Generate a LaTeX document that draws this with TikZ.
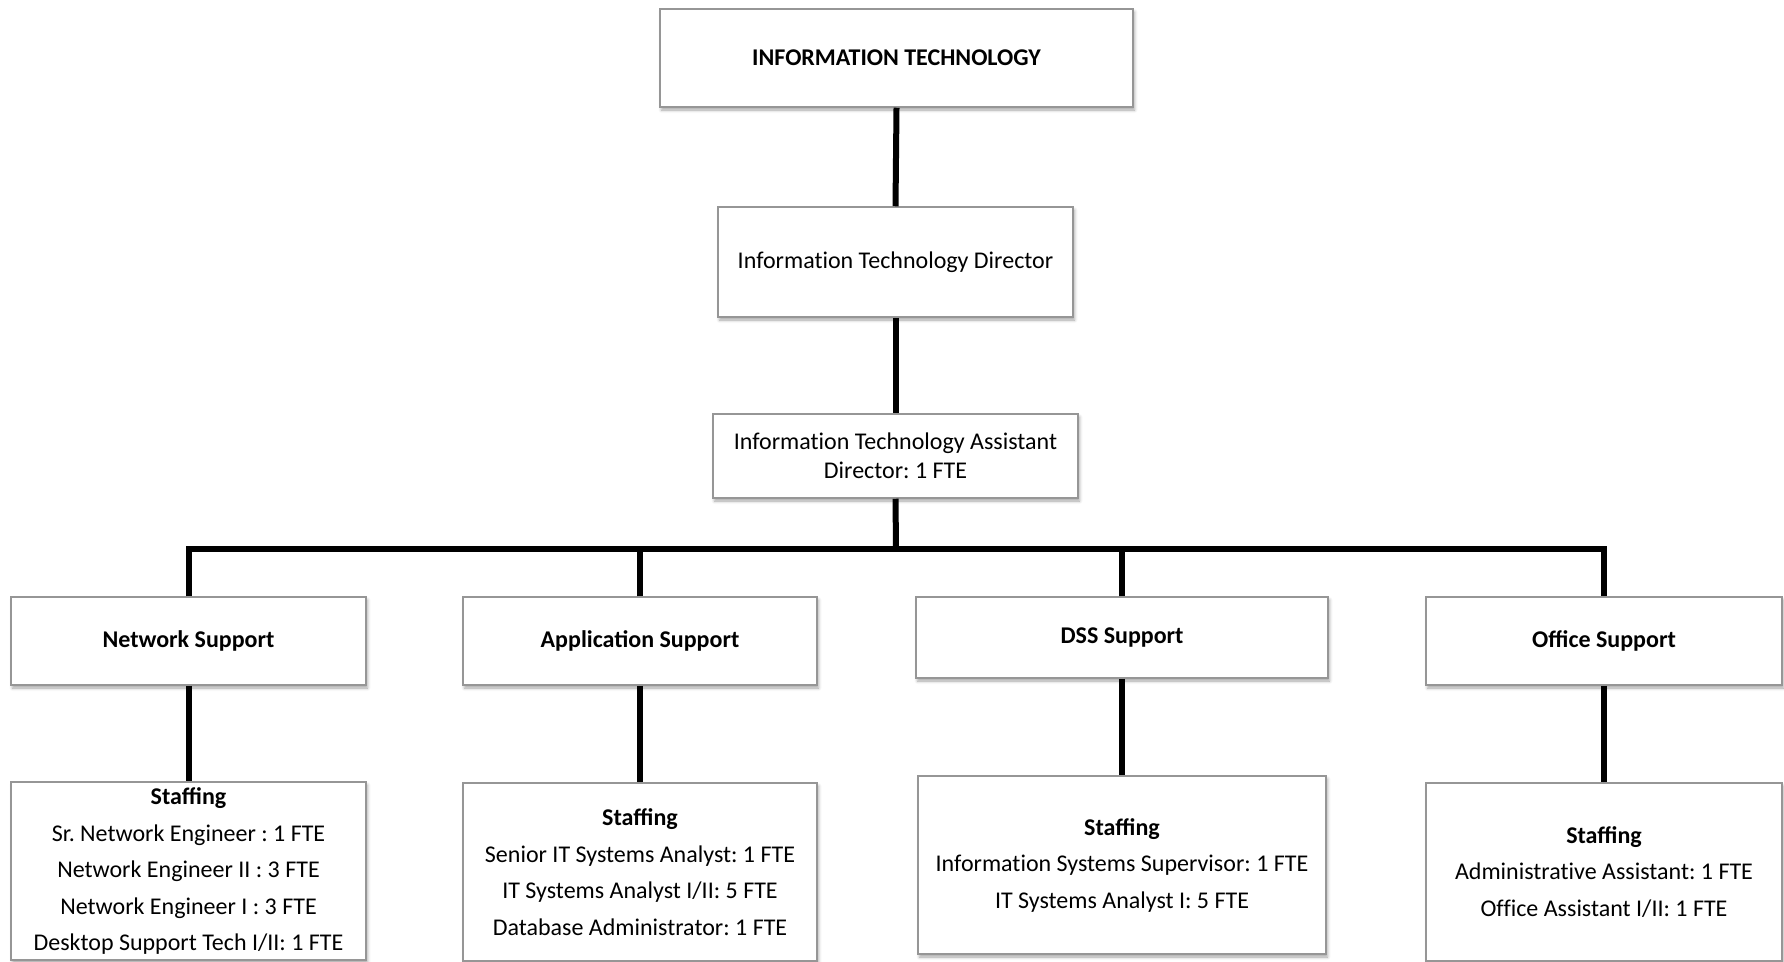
\documentclass[tikz,border=0pt]{standalone}
\usepackage{fontspec}
\setmainfont{Carlito}[UprightFeatures={RawFeature=-liga}]
\usetikzlibrary{shadows.blur}
\definecolor{boxgray}{RGB}{150,150,150}
\frenchspacing

\begin{document}
\begin{tikzpicture}[x=1pt,y=-1pt,
  box/.style={draw=boxgray, line width=1.5pt, fill=white, inner sep=0pt,
    align=center, font=\fontsize{24}{28.5}\selectfont,
    blur shadow={shadow xshift=1.5pt, shadow yshift=-3pt,
      shadow blur radius=3pt, shadow opacity=35}},
  headbox/.style={box, font=\fontsize{24}{28.5}\selectfont\bfseries},
  staffbox/.style={box, font=\fontsize{24}{36.5}\selectfont},
  link/.style={draw=black, line width=6pt, line join=miter}
]
\path[use as bounding box] (0,0) rectangle (1784,961);
\clip (0,0) rectangle (1784,961);

% top of the hierarchy
\node[headbox, minimum width=473pt, minimum height=98pt] (it) at (896.5,58)
  {INFORMATION TECHNOLOGY};
\node[box, minimum width=355pt, minimum height=110pt] (dir) at (895.5,262)
  {Information Technology Director};
\node[box, minimum width=365pt, minimum height=84pt] (asst) at (895.5,456)
  {Information Technology Assistant\\Director: 1 FTE};

% units
\node[headbox, minimum width=355pt, minimum height=88pt] (net) at (188.5,641)
  {Network Support};
\node[headbox, minimum width=354pt, minimum height=88pt] (app) at (640,641)
  {Application Support};
\node[headbox, minimum width=412pt, minimum height=81pt] (dss) at (1122,637.5)
  {DSS Support};
\node[headbox, minimum width=356pt, minimum height=88pt] (off) at (1604,641)
  {Office Support};

% staffing of each unit
\node[staffbox, minimum width=355pt, minimum height=178pt] (netstaff) at (188.5,871)
  {\textbf{Staffing}\\Sr. Network Engineer : 1 FTE\\Network Engineer II : 3 FTE\\Network Engineer I : 3 FTE\\Desktop Support Tech I/II: 1 FTE};
\node[staffbox, minimum width=354pt, minimum height=178pt] (appstaff) at (640,872)
  {\textbf{Staffing}\\Senior IT Systems Analyst: 1 FTE\\IT Systems Analyst I/II: 5 FTE\\Database Administrator: 1 FTE};
\node[staffbox, minimum width=408pt, minimum height=178pt] (dssstaff) at (1122,865)
  {\textbf{Staffing}\\Information Systems Supervisor: 1 FTE\\IT Systems Analyst I: 5 FTE};
\node[staffbox, minimum width=356pt, minimum height=178pt] (offstaff) at (1604,872)
  {\textbf{Staffing}\\Administrative Assistant: 1 FTE\\Office Assistant I/II: 1 FTE};

% connectors
\coordinate (bar) at (896,549);
\draw[link] (it.south) -- (dir.north);
\draw[link] (dir.south) -- (asst.north);
\draw[link] (asst.south) -- (bar);
\draw[link] (net.north) |- (bar) -| (off.north);
\draw[link] (app.north) |- (bar);
\draw[link] (dss.north) |- (bar);
\draw[link] (net.south) -- (netstaff.north);
\draw[link] (app.south) -- (appstaff.north);
\draw[link] (dss.south) -- (dssstaff.north);
\draw[link] (off.south) -- (offstaff.north);
\end{tikzpicture}
\end{document}
